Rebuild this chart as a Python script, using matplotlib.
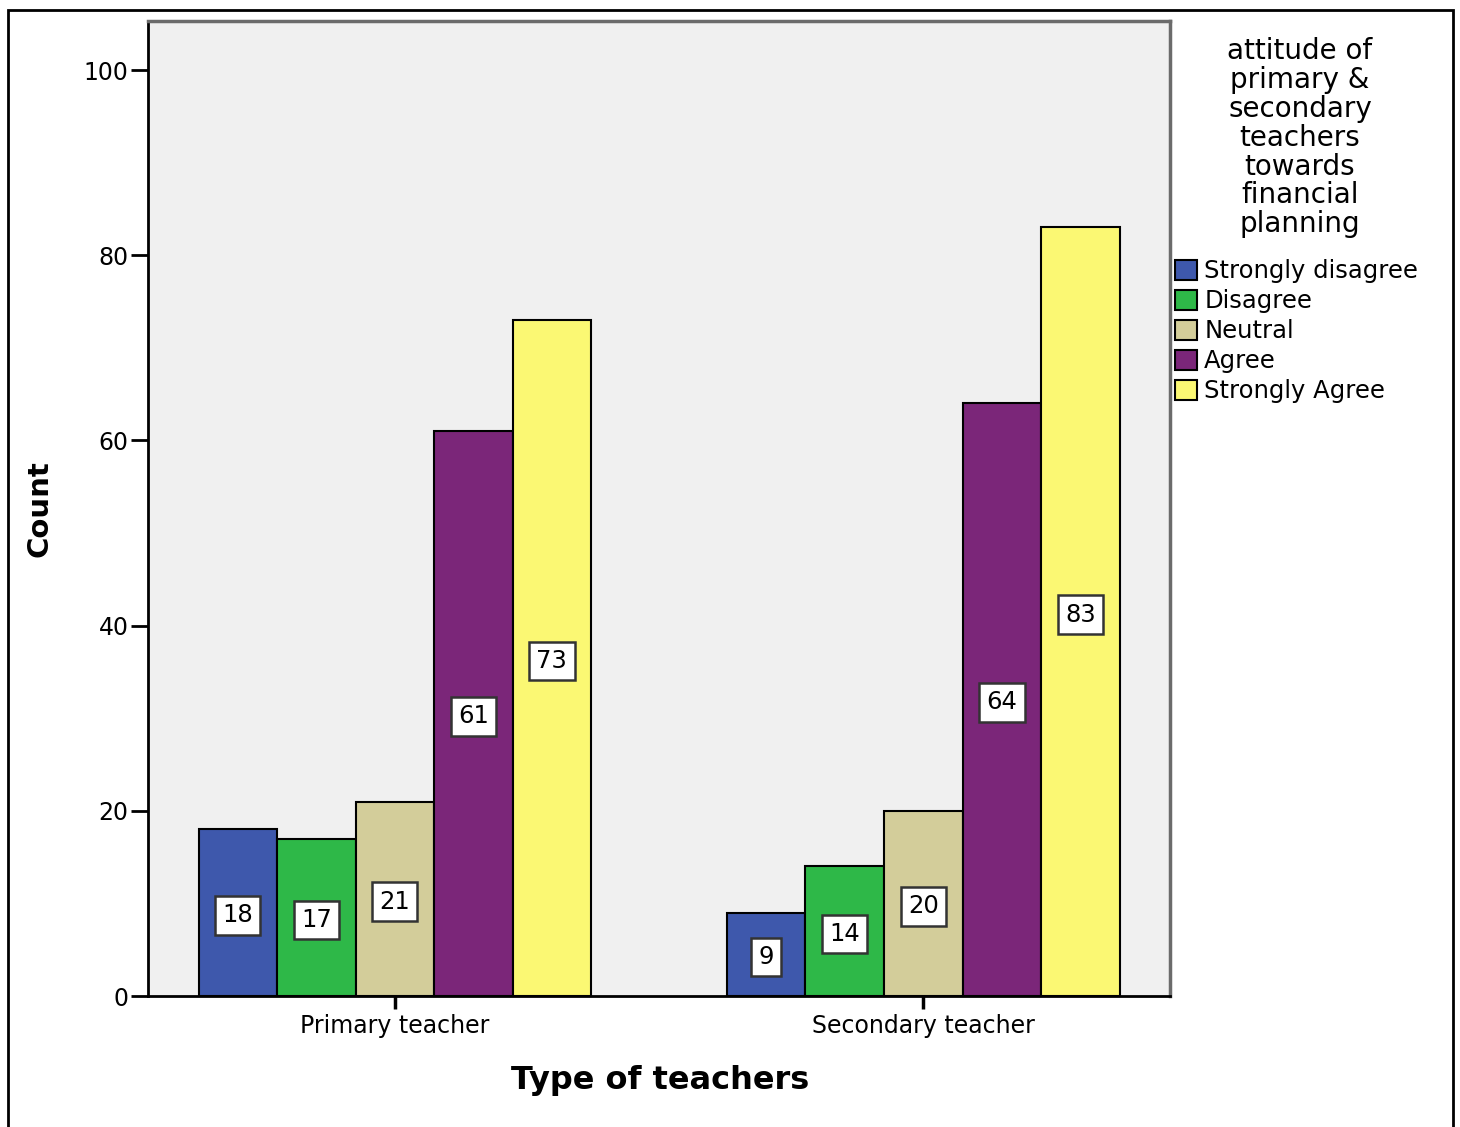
import matplotlib.pyplot as plt
from matplotlib.patches import Rectangle
import numpy as np

# data
teacher_types = ["Primary teacher", "Secondary teacher"]
responses = ["Strongly disagree", "Disagree", "Neutral", "Agree", "Strongly Agree"]
strongly_disagree = [18, 9]
disagree = [17, 14]
neutral = [21, 20]
agree = [61, 64]
strongly_agree = [73, 83]
colors = ["#3e58ac", "#2eb848", "#d3cd9a", "#7b2679", "#fbf873"]
legend_title = "attitude of\nprimary &\nsecondary\nteachers\ntowards\nfinancial\nplanning"

series = [strongly_disagree, disagree, neutral, agree, strongly_agree]

plt.rcParams["font.family"] = "DejaVu Sans"

fig = plt.figure(figsize=(14.6, 11.27), dpi=100)
ax = fig.add_axes([0.1014, 0.1162, 0.7000, 0.8652])
ax.set_facecolor("#f0f0f0")

x = np.arange(len(teacher_types))
width = 0.1486
for i, (vals, name, col) in enumerate(zip(series, responses, colors)):
    pos = x + (i - 2) * width
    ax.bar(pos, vals, width=width, color=col, edgecolor="black",
           linewidth=1.5, label=name, zorder=2)
    for px, v in zip(pos, vals):
        ax.text(px, v / 2 - 0.3, str(v), ha="center", va="center",
                fontsize=17.5, zorder=3,
                bbox=dict(boxstyle="square,pad=0.3", fc="white",
                          ec="#333333", lw=1.8))

ax.set_xlim(-0.467, 1.467)
ax.set_ylim(0, 105.3)
ax.set_yticks([0, 20, 40, 60, 80, 100])
ax.set_xticks(x)
ax.set_xticklabels(teacher_types)
ax.tick_params(axis="y", length=12, width=2, labelsize=17, pad=2)
ax.tick_params(axis="x", length=9, width=2.5, labelsize=17, pad=4)

for s in ["left", "bottom"]:
    ax.spines[s].set_color("black")
    ax.spines[s].set_linewidth(2)
for s in ["top", "right"]:
    ax.spines[s].set_color("#6b6b6b")
    ax.spines[s].set_linewidth(2.5)

fig.text(0.027, 0.549, "Count", rotation=90, ha="center", va="center",
         fontsize=21, fontweight="bold")
fig.text(0.452, 0.0417, "Type of teachers", ha="center", va="center",
         fontsize=23, fontweight="bold")

# legend title drawn as its own text, centred over the entries
fig.text(0.8904, 1 - 37 / 1127, legend_title, ha="center", va="top",
         multialignment="center", fontsize=20, linespacing=1.04)

leg = fig.legend(loc="upper left", bbox_to_anchor=(1175 / 1460, 1 - 259 / 1127),
                 frameon=False, fontsize=17.5,
                 handlelength=0.9, handleheight=0.9, handletextpad=0.3,
                 labelspacing=0.25, borderpad=0, borderaxespad=0)
for h in leg.legend_handles:
    h.set_edgecolor("black")
    h.set_linewidth(1.5)

# outer frame around the figure
fig.patches.append(Rectangle((8 / 1460, -0.02), 1445 / 1460, 1.02 - 10 / 1127,
                             transform=fig.transFigure, fill=False,
                             edgecolor="black", linewidth=2))

fig.savefig("out.png", dpi=100)
